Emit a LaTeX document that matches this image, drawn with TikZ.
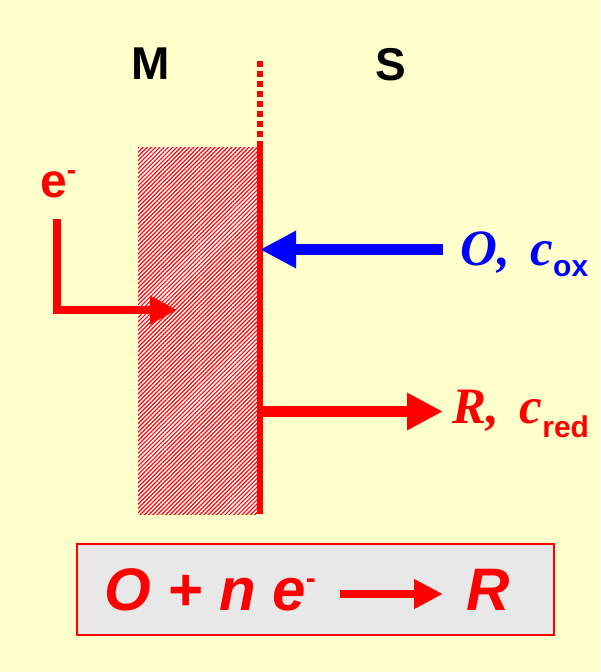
\documentclass[tikz,border=0pt]{standalone}
\usepackage{fontspec}
\setmainfont{Liberation Sans}
\newfontfamily\timesfont{Liberation Serif}
\usetikzlibrary{arrows.meta,patterns.meta}
\definecolor{figbg}{RGB}{255,255,204}
\definecolor{figred}{RGB}{255,0,0}
\definecolor{figblue}{RGB}{0,0,255}
\definecolor{figbox}{RGB}{232,232,232}
\newcommand\lowsub[2]{\raisebox{-#1}{\fontsize{30}{30}\selectfont\normalfont\bfseries #2}}
\newcommand\supminus[2]{\raisebox{#1}{\fontsize{#2}{#2}\selectfont\normalfont\bfseries -}}
\tikzset{
  side/.style ={font=\fontsize{46}{46}\selectfont\bfseries, inner sep=0pt, anchor=base},
  spec/.style ={font=\fontsize{51}{51}\selectfont\timesfont\bfseries\itshape, inner sep=0pt, anchor=base west},
  eqn/.style  ={font=\fontsize{60}{60}\selectfont\bfseries\itshape, text=figred, inner sep=0pt, anchor=base west},
  flow/.style ={line width=11pt, -{Triangle[length=36pt,width=35pt]}},
  eflow/.style={draw=figred, line width=7.5pt, -{Triangle[length=27pt,width=27pt]}},
  elec/.style ={draw=figred, line width=6pt},
}

\begin{document}
\begin{tikzpicture}[x=1pt,y=-1pt]
  \useasboundingbox (0,0) rectangle (600,672);
  \fill[figbg] (0,0) rectangle (600,672);
  % metal side, hatched
  \fill[white] (138,147) rectangle (258,514);
  \fill[pattern={Lines[angle=45,distance=3pt,line width=1.2pt]}, pattern color=figred] (138,147) rectangle (258,514);
  % electrode surface
  \coordinate (elecT) at (260,61);
  \coordinate (elecM) at (260,142);
  \coordinate (elecB) at (260,514);
  \draw[elec, dash pattern=on 6pt off 4pt] (elecT) -- (elecM);
  \draw[elec] (elecM) -- (elecB);
  \node[side] (metal) at (151,79) {M};
  \node[side] (soln) at (391,80) {S};
  % electrons into the metal
  \node[font=\fontsize{48}{48}\selectfont\bfseries, text=figred, inner sep=0pt, anchor=base west] (elab) at (40,197) {e\supminus{18pt}{28}};
  \coordinate (ein) at (57,219);
  \coordinate (eout) at (177,310);
  \draw[eflow] (ein) |- (eout);
  % species at the surface
  \node[spec, text=figblue] (ox) at (460,265) {O,\hspace{8pt} c\lowsub{11pt}{ox}};
  \node[spec, text=figred] (rd) at (452,423) {R,\hspace{8pt} c\lowsub{14pt}{red}};
  \coordinate (oxin) at (443,249.5);
  \coordinate (oxat) at (260,249.5);
  \coordinate (rdat) at (260,411.5);
  \coordinate (rdout) at (443,411.5);
  \draw[flow, figblue] (oxin) -- (oxat);
  \draw[flow, figred] (rdat) -- (rdout);
  % reaction
  \node[draw=figred, line width=1.2pt, fill=figbox, minimum width=477pt, minimum height=91pt, inner sep=0pt] (eqbox) at (315.5,589.5) {};
  \node[eqn] (eql) at (104,610) {O + n e\supminus{22pt}{30}};
  \node[eqn] (eqr) at (466,610) {R};
  \draw[figred, line width=8pt, -{Triangle[length=29pt,width=28pt]}] ([shift={(24,-16)}]eql.base east) -- ([shift={(-23,-16)}]eqr.base west);
\end{tikzpicture}
\end{document}
